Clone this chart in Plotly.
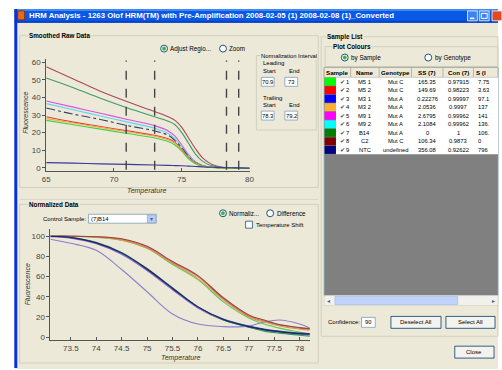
import plotly.graph_objects as go

W, H = 502, 370

# ---------------- data ----------------
raw_temps = [65, 67, 69, 71, 73, 74, 74.5, 75, 75.5, 76, 76.5, 77, 77.5, 78, 79, 80]
raw_c2 = [57.5, 50.5, 43.5, 37.5, 32, 29, 27, 23, 17, 11, 6, 3, 1.2, 0.4, 0, -0.3]
raw_b14 = [51, 45.5, 39.5, 34, 29, 26.5, 24.5, 20, 14, 8, 4, 1.8, 0.8, 0.3, 0, -0.3]
raw_m91 = [38, 34.5, 31, 27.5, 24, 21, 18, 13, 7.5, 3.5, 1.5, 0.6, 0.2, 0, -0.2, -0.3]
raw_m92 = [36.5, 33, 29.5, 26, 22.5, 19.5, 16.5, 12, 7, 3.3, 1.4, 0.5, 0.2, 0, -0.2, -0.3]
raw_m31 = [34, 30.5, 27.5, 24, 21, 18.5, 15.5, 11.5, 6.5, 3, 1.3, 0.5, 0.2, 0, -0.2, -0.3]
raw_m52 = [29, 26, 23.5, 21, 18.5, 16.5, 14.5, 10.5, 6, 2.8, 1.2, 0.5, 0.2, 0, -0.2, -0.3]
raw_m32 = [28, 25.5, 23, 20.5, 18, 16, 14, 10, 5.5, 2.6, 1.1, 0.4, 0.1, 0, -0.2, -0.3]
raw_m51 = [27, 24.5, 22, 19.5, 17, 15, 13, 9.5, 5.2, 2.4, 1, 0.4, 0.1, 0, -0.2, -0.3]
raw_ntc = [3, 2.7, 2.3, 2, 1.6, 1.4, 1.3, 1.2, 1, 0.8, 0.6, 0.4, 0.3, 0.2, 0, -0.2]

norm_interval = [70.9, 73, 78.3, 79.2]

norm_temps = [73.1, 73.5, 74.0, 74.5, 75.0, 75.5, 76.0, 76.5, 77.0, 77.3, 77.6, 78.0, 78.2]
norm_m52 = [100, 100, 99.5, 97, 89, 74, 60, 38, 21, 16, 12, 9, 8]
norm_m32 = [100, 100, 99, 96, 88, 73, 58, 37, 20, 15, 11, 8, 7]
norm_c2 = [100, 100, 99.5, 97.5, 90, 75, 61, 39, 22, 17, 12.5, 9.5, 8.5]
norm_m51 = [100, 100, 99, 96, 88, 72, 57, 35, 19, 13, 9, 5, 3]
norm_m31 = [100, 98.5, 93, 83, 67, 48, 30, 18, 11, 8, 6, 4, 3.5]
norm_b14 = [100, 99, 94, 84, 68, 49, 30, 17, 10, 6, 4, 2, 1]
norm_m92 = [100, 98.5, 93, 82, 66, 47, 29, 17, 10, 7, 5, 3, 2.5]
norm_m91 = [99.5, 98, 92.5, 82, 66, 47, 29, 17, 10, 7, 5, 3, 2]
norm_ntc = [97, 93, 86, 67, 45, 23, 13, 10.5, 11, 15, 17, 13, 9]
norm_mean_a = [100, 98.7, 93.5, 83.5, 67.5, 48.5, 30, 17.5, 10.5, 7.5, 5.5, 3.5, 3]

raw_ticks_x = [65, 70, 75, 80]
raw_ticks_y = [0, 10, 20, 30, 40, 50, 60]
norm_ticks_x = [73.5, 74, 74.5, 75, 75.5, 76, 76.5, 77, 77.5, 78]
norm_ticks_y = [0, 20, 40, 60, 80, 100]

table_headers = ["Sample", "Name", "Genotype", "SS (7)", "Con (7)", "S (I"]
sample_ids = ["1", "2", "3", "4", "5", "6", "7", "8", "9"]
sample_names = ["M5 1", "M5 2", "M3 1", "M3 2", "M9 1", "M9 2", "B14", "C2", "NTC"]
genotypes = ["Mut C", "Mut C", "Mut A", "Mut A", "Mut A", "Mut A", "Mut A", "Mut C", "undefined"]
ss_vals = ["165.35", "149.69", "0.22276", "2.0536", "2.6795", "2.1084", "0", "106.34", "356.08"]
con_vals = ["0.97915", "0.98223", "0.99997", "0.9997", "0.99962", "0.99962", "1", "0.9873", "0.92622"]
s_vals = ["7.75", "3.63", "97.1", "137", "141", "136.", "106.", "0", "796"]
sample_colors = ["#00ff00", "#ff0000", "#0000ff", "#ffb030", "#ff00ff", "#00ffff", "#008000", "#800000", "#000080"]

# ---------------- helpers ----------------
def X(p):
    return p / W

def Y(p):
    return 1 - p / H

shapes = []
annotations = []
FONT = "Liberation Sans"
BG = "#ece9d8"

def rect(x0, y0, x1, y1, fill=None, line=None, lw=1, layer="below"):
    shapes.append(dict(type="rect", xref="paper", yref="paper",
                       x0=X(x0), x1=X(x1), y0=Y(y1), y1=Y(y0),
                       fillcolor=fill if fill else "rgba(0,0,0,0)",
                       line=dict(color=line if line else "rgba(0,0,0,0)", width=lw if line else 0),
                       layer=layer))

def hline(x0, x1, y, color, lw=1, layer="below"):
    shapes.append(dict(type="line", xref="paper", yref="paper", x0=X(x0), x1=X(x1),
                       y0=Y(y), y1=Y(y), line=dict(color=color, width=lw), layer=layer))

def vline(x, y0, y1, color, lw=1, layer="below"):
    shapes.append(dict(type="line", xref="paper", yref="paper", x0=X(x), x1=X(x),
                       y0=Y(y0), y1=Y(y1), line=dict(color=color, width=lw), layer=layer))

def circle(cx, cy, r, fill, line, lw=1, layer="above"):
    shapes.append(dict(type="circle", xref="paper", yref="paper",
                       x0=X(cx - r), x1=X(cx + r), y0=Y(cy + r), y1=Y(cy - r),
                       fillcolor=fill, line=dict(color=line, width=lw), layer=layer))

def text(x, y, s, size=6.5, color="#000000", anchor="left", bold=False, bg=None, angle=0, family=FONT):
    if bold:
        s = "<b>" + s + "</b>"
    a = dict(x=X(x), y=Y(y), xref="paper", yref="paper", text=s, showarrow=False,
             xanchor=anchor, yanchor="middle", font=dict(size=size, color=color, family=family),
             textangle=angle, borderpad=0)
    if bg:
        a["bgcolor"] = bg
    annotations.append(a)

def radio(cx, cy, label, selected=False):
    circle(cx, cy, 3.5, "#ffffff", "#1c5180", 1)
    if selected:
        circle(cx, cy, 1.8, "#3cb043", "#3cb043", 0.5)
    text(cx + 5.5, cy, label, size=6.3, color="#000000")

def groupbox(x0, y0, x1, y1, label, lx, bold=True, size=6.3):
    rect(x0, y0, x1, y1, None, "#d0d0bf", 1)
    text(lx, y0, label, size=size, bold=bold, bg=BG)

# ---------------- window chrome ----------------
rect(11, 8, 503, 371, BG, None)
rect(11, 8, 503, 22, "#0a58e6", None)
rect(11, 8, 503, 10, "#3d8af7", None)
rect(11, 20, 503, 22, "#0842c4", None)
vline(12, 8, 370, "#0831d9", 3)
rect(14, 10, 21, 19, "#e06a20", "#8a2a00", 0.8)
text(24, 15, "HRM Analysis - 1263 Olof HRM(TM) with Pre-Amplification 2008-02-05 (1) 2008-02-08 (1)_Converted",
     size=7.8, color="#ffffff", bold=True)
rect(472, 10, 482, 20, "#3c82f0", "#ffffff", 0.8)
hline(474.5, 479, 17.5, "#ffffff", 1.5)
rect(484, 10, 494, 20, "#3c82f0", "#ffffff", 0.8)
rect(486, 12.5, 492, 17.5, None, "#ffffff", 1)
rect(497, 10, 507, 20, "#e04a20", "#ffffff", 0.8)

# ---------------- left groups ----------------
groupbox(16, 35, 320, 188, "Smoothed Raw Data", 24)
hline(16, 320, 200, "#d8d6c8", 1)
radio(163, 48, "Adjust Regio...", True)
radio(223, 48, "Zoom", False)

groupbox(257, 55, 318, 130, "Normalization Interval", 261, bold=False, size=5.8)
text(263, 63, "Leading", 6)
text(263, 71, "Start", 6)
text(289, 71, "End", 6)
rect(262, 77, 275, 86, "#ffffff", "#7f9db9", 0.8)
text(268.5, 81.5, "70.9", 5.8, anchor="center")
rect(286, 77, 299, 86, "#ffffff", "#7f9db9", 0.8)
text(292.5, 81.5, "73", 5.8, anchor="center")
text(263, 98, "Trailing", 6)
text(263, 105, "Start", 6)
text(289, 105, "End", 6)
rect(262, 111, 275, 120, "#ffffff", "#7f9db9", 0.8)
text(268.5, 115.5, "78.3", 5.8, anchor="center")
rect(286, 111, 299, 120, "#ffffff", "#7f9db9", 0.8)
text(292.5, 115.5, "79.2", 5.8, anchor="center")

groupbox(16, 205, 320, 365, "Normalized Data", 24)
text(85, 219.5, "Control Sample:", 6, anchor="right")
rect(86, 215, 155, 224, "#ffffff", "#7f9db9", 0.8)
text(88, 219.5, "(7)B14", 5.8)
rect(146, 215.5, 154.5, 223.5, "#b6cdf7", "#7f9db9", 0.6)
text(150.2, 219.5, "▾", 6, color="#4d6185", anchor="center")
radio(223, 214, "Normaliz...", True)
radio(271, 214, "Difference", False)
rect(246, 222, 253, 229, "#ffffff", "#1c5180", 0.8, layer="above")
text(256, 225.5, "Temperature Shift", 6)

# ---------------- right group ----------------
groupbox(323, 36, 503, 338, "Sample List", 328)
groupbox(327, 46, 503, 66, "Plot Colours", 334)
radio(347, 57, "by Sample", True)
radio(432, 57, "by Genotype", False)

# list area
rect(326, 67, 503, 297, "#808080", "#7f9db9", 0.8)
col_edges = [326, 353, 382, 415, 447, 478, 503]
HDR_TOP, HDR_BOT, ROW_H = 67, 77, 8.6
rect(326, HDR_TOP, 503, HDR_BOT, BG, "#aca899", 0.8)
for xe in col_edges[1:-1]:
    vline(xe, HDR_TOP, HDR_BOT, "#aca899", 0.8)
for i, hname in enumerate(table_headers):
    cx = (col_edges[i] + col_edges[i + 1]) / 2
    if i == len(table_headers) - 1:
        text(col_edges[i] + 2, (HDR_TOP + HDR_BOT) / 2, hname, 6.2, bold=True)
    else:
        text(cx, (HDR_TOP + HDR_BOT) / 2, hname, 6.2, bold=True, anchor="center")
rows_bot = HDR_BOT + ROW_H * len(sample_ids)
rect(338, HDR_BOT, 503, rows_bot, "#ffffff", None)
row_cols = [sample_names, genotypes, ss_vals, con_vals, s_vals]
for r in range(len(sample_ids)):
    y0 = HDR_BOT + ROW_H * r
    yc = y0 + ROW_H / 2
    rect(326.5, y0 + 0.3, 338, y0 + ROW_H - 0.3, sample_colors[r], None)
    text(341, yc, "✔", 5.5, color="#3a4a70")
    text(347.5, yc, sample_ids[r], 5.8)
    for c, vals in enumerate(row_cols):
        ci = c + 1
        cx = (col_edges[ci] + col_edges[ci + 1]) / 2
        if ci == len(col_edges) - 2:
            text(col_edges[ci] + 4, yc, vals[r], 5.8)
        else:
            text(cx, yc, vals[r], 5.8, anchor="center")

# scrollbar
rect(326, 297, 503, 307, "#f3f1ec", "#d0d0bf", 0.6)
rect(337, 298, 462, 306, "#c1d3fb", "#9cb5e6", 0.6)
text(330.5, 302, "◂", 6, color="#4d6185", anchor="center")
text(498.5, 302, "▸", 6, color="#4d6185", anchor="center")

text(329, 324, "Confidence:", 6)
rect(364, 319, 378, 329, "#ffffff", "#7f9db9", 0.8)
text(371, 324, "90", 5.8, anchor="center")
rect(394, 318, 445, 330, "#f4f3ee", "#003c74", 0.8)
text(419.5, 324, "Deselect All", 6, anchor="center")
rect(450, 318, 500, 330, "#f4f3ee", "#003c74", 0.8)
text(475, 324, "Select All", 6, anchor="center")
rect(459, 348, 499, 360, "#f4f3ee", "#003c74", 0.8)
text(479, 354, "Close", 6, anchor="center")

# ---------------- traces ----------------
fig = go.Figure()

raw_series = [
    (raw_c2, "#a84a5a", "solid"),
    (raw_b14, "#3f9a6e", "solid"),
    (raw_m91, "#e050e0", "solid"),
    (raw_m92, "#5ad8f0", "solid"),
    (raw_m31, "#3a4266", "dashdot"),
    (raw_m52, "#e03c3c", "solid"),
    (raw_m32, "#f0a848", "solid"),
    (raw_m51, "#46d046", "solid"),
    (raw_ntc, "#3a3a9a", "solid"),
]
for ys, col, dash in raw_series:
    fig.add_trace(go.Scatter(x=raw_temps, y=ys, mode="lines", line=dict(color=col, width=1.1, dash=dash, shape="spline"),
                             xaxis="x", yaxis="y", showlegend=False, hoverinfo="skip"))
for v in norm_interval:
    fig.add_trace(go.Scatter(x=[v, v], y=[-1, 61], mode="lines", line=dict(color="#444444", width=1.4, dash="dash"),
                             xaxis="x", yaxis="y", showlegend=False, hoverinfo="skip"))

norm_series = [
    (norm_ntc, "#8a80cc"),
    (norm_m51, "#5cc85c"),
    (norm_m32, "#d8a040"),
    (norm_m52, "#e86a6a"),
    (norm_c2, "#8a4a40"),
    (norm_m92, "#40c0d0"),
    (norm_m91, "#c060c8"),
    (norm_b14, "#2e9a62"),
    (norm_m31, "#3050c0"),
    (norm_mean_a, "#1c2456"),
]
for ys, col in norm_series:
    fig.add_trace(go.Scatter(x=norm_temps, y=ys, mode="lines", line=dict(color=col, width=1.1, shape="spline"),
                             xaxis="x2", yaxis="y2", showlegend=False, hoverinfo="skip"))

# axis titles
text(146, 192, "<i>Temperature</i>", 7, color="#333333", anchor="center")
text(21, 113, "<i>Fluorescence</i>", 7, color="#333333", anchor="center", angle=-90)
text(180, 360, "<i>Temperature</i>", 7, color="#333333", anchor="center")
text(24, 286, "<i>Fluorescence</i>", 7, color="#333333", anchor="center", angle=-90)

axis_common = dict(showgrid=False, zeroline=False, showline=True, linecolor="#555555", linewidth=1,
                   tickfont=dict(size=8, color="#444444", family=FONT), ticklen=3, tickcolor="#555555",
                   fixedrange=True)

fig.update_layout(
    width=W, height=H, autosize=False,
    margin=dict(l=0, r=0, t=0, b=0, pad=0),
    paper_bgcolor="#ffffff", plot_bgcolor="#ffffff",
    showlegend=False,
    xaxis=dict(domain=[X(43), X(250)], range=[65, 80], tickvals=raw_ticks_x, ticks="inside", anchor="y", **axis_common),
    yaxis=dict(domain=[Y(171.8), Y(58.2)], range=[-2, 62], tickvals=raw_ticks_y, ticks="outside", anchor="x", **axis_common),
    xaxis2=dict(domain=[X(47.3), X(311.4)], range=[73.1, 78.2], tickvals=norm_ticks_x,
                ticktext=[str(t) if t % 1 else str(int(t)) for t in norm_ticks_x], ticks="inside", anchor="y2", **axis_common),
    yaxis2=dict(domain=[Y(342), Y(230)], range=[-3, 107], tickvals=norm_ticks_y, ticks="outside", anchor="x2", **axis_common),
    shapes=shapes,
    annotations=annotations,
)

fig.write_html("out.html", config={"displayModeBar": False},
               post_script="document.body.style.margin='0';document.body.style.overflow='hidden';")
